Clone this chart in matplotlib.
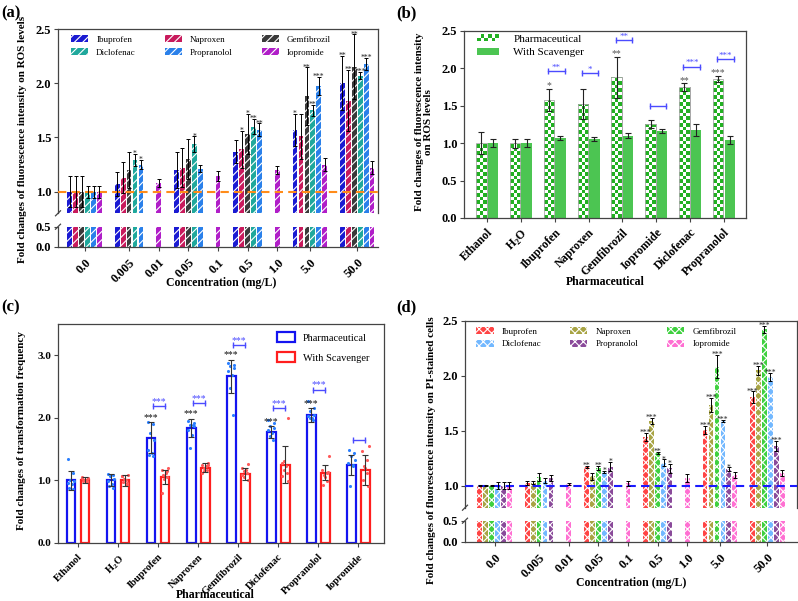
import numpy as np
import matplotlib
matplotlib.use('Agg')
import matplotlib.pyplot as plt
from matplotlib.patches import Rectangle
from matplotlib.colors import ListedColormap
from matplotlib.legend_handler import HandlerBase

plt.rcParams['font.family'] = 'Liberation Serif'
plt.rcParams['mathtext.fontset'] = 'custom'
plt.rcParams['mathtext.rm'] = 'Liberation Serif'
plt.rcParams['mathtext.bf'] = 'Liberation Serif:bold'
plt.rcParams['hatch.linewidth'] = 0.8

W, H = 798, 601
N = None

# ---------------- data ----------------
drugs = ['Ibuprofen', 'Naproxen', 'Gemfibrozil', 'Diclofenac', 'Propranolol', 'Iopromide']
conc_labels = ['0.0', '0.005', '0.01', '0.05', '0.1', '0.5', '1.0', '5.0', '50.0']

# (a) ROS levels
a_ibu = [1.00, 1.07, N, 1.20, N, 1.37, N, 1.57, 2.00]
a_ibu_err = [0.145, 0.11, N, 0.17, N, 0.11, N, 0.15, 0.25]
a_ibu_sig = ['', '', N, '', N, '', N, '*', '**']
a_nap = [1.00, 1.13, N, 1.22, N, 1.39, N, 1.51, 1.84]
a_nap_err = [0.145, 0.145, N, 0.18, N, 0.17, N, 0.21, 0.28]
a_nap_sig = ['', '', N, '', N, '*', N, '', '**']
a_gem = [1.00, 1.20, N, 1.30, N, 1.53, N, 1.88, 2.15]
a_gem_err = [0.145, 0.17, N, 0.185, N, 0.185, N, 0.265, 0.30]
a_gem_sig = ['', '', N, '', N, '*', N, '**', '**']
a_dic = [1.00, 1.29, N, 1.44, N, 1.60, N, 1.75, 2.07]
a_dic_err = [0.055, 0.058, N, 0.07, N, 0.07, N, 0.053, 0.033]
a_dic_sig = ['', '*', N, '*', N, '**', N, '**', '***']
a_pro = [1.00, 1.25, N, 1.21, N, 1.57, N, 1.975, 2.175]
a_pro_err = [0.055, 0.045, N, 0.033, N, 0.06, N, 0.08, 0.055]
a_pro_sig = ['', '*', N, '', N, '**', N, '***', '***']
a_iop = [1.00, N, 1.08, N, 1.145, N, 1.20, 1.25, 1.22]
a_iop_err = [0.055, N, 0.037, N, 0.045, N, 0.037, 0.06, 0.06]
a_iop_sig = ['', N, '', N, '', N, '', '', '']

# (d) PI-stained cells
d_ibu = [1.00, 1.027, N, 1.17, N, 1.443, N, 1.506, 1.806]
d_ibu_err = [0.005, 0.02, N, 0.01, N, 0.04, N, 0.037, 0.052]
d_ibu_sig = ['', '', N, '**', N, '***', N, '***', '***']
d_nap = [1.00, 1.027, N, 1.085, N, 1.588, N, 1.733, 2.049]
d_nap_err = [0.005, 0.013, N, 0.03, N, 0.025, N, 0.064, 0.04]
d_nap_sig = ['', '', N, '', N, '***', N, '***', '***']
d_gem = [1.00, 1.08, N, 1.16, N, 1.30, N, 2.082, 2.422]
d_gem_err = [0.005, 0.035, N, 0.02, N, 0.01, N, 0.105, 0.033]
d_gem_sig = ['', '', N, '**', N, '**', N, '***', '***']
d_dic = [1.00, 1.045, N, 1.127, N, 1.209, N, 1.588, 1.988]
d_dic_err = [0.03, 0.025, N, 0.01, N, 0.03, N, 0.012, 0.037]
d_dic_sig = ['', '', N, '*', N, '*', N, '***', '***']
d_pro = [1.00, 1.07, N, 1.173, N, 1.158, N, 1.149, 1.361]
d_pro_err = [0.03, 0.03, N, 0.042, N, 0.043, N, 0.018, 0.043]
d_pro_sig = ['', '', N, '*', N, '*', N, '*', '***']
d_iop = [1.00, N, 1.015, N, 1.02, N, 1.07, 1.097, 1.115]
d_iop_err = [0.03, N, 0.012, N, 0.02, N, 0.037, 0.03, 0.028]
d_iop_sig = ['', N, '', N, '', N, '', '', '']

# (b) ROS with scavenger
b_cats = ['Ethanol', r'H$_\mathbf{2}$O', 'Ibuprofen', 'Naproxen', 'Gemfibrozil',
          'Iopromide', 'Diclofenac', 'Propranolol']
b_pharm = [1.00, 1.00, 1.573, 1.52, 1.876, 1.253, 1.747, 1.853]
b_pharm_err = [0.15, 0.06, 0.15, 0.20, 0.27, 0.05, 0.05, 0.04]
b_pharm_sig = ['', '', '*', '', '**', '', '**', '***']
b_scav = [1.00, 1.00, 1.067, 1.05, 1.10, 1.16, 1.169, 1.04]
b_scav_err = [0.05, 0.05, 0.03, 0.025, 0.03, 0.03, 0.08, 0.05]
b_bracket_y = [N, N, 1.964, 1.93, 2.373, 1.49, 2.02, 2.116]
b_bracket_sig = [N, N, '**', '*', '**', '', '***', '***']

# (c) transformation frequency
c_cats = ['Ethanol', r'H$_\mathbf{2}$O', 'Ibuprofen', 'Naproxen', 'Gemfibrozil',
          'Diclofenac', 'Propranolol', 'Iopromide']
c_pharm = [1.00, 1.00, 1.68, 1.835, 2.66, 1.77, 2.04, 1.238]
c_pharm_err = [0.15, 0.10, 0.25, 0.15, 0.27, 0.10, 0.11, 0.16]
c_pharm_sig = ['', '', '***', '***', '***', '***', '***', '']
c_scav = [1.00, 1.00, 1.056, 1.20, 1.10, 1.25, 1.12, 1.163]
c_scav_err = [0.05, 0.09, 0.11, 0.07, 0.10, 0.30, 0.12, 0.24]
c_bracket_y = [N, N, 2.18, 2.23, 3.16, 2.15, 2.45, 1.65]
c_bracket_sig = [N, N, '***', '***', '***', '***', '***', '']
c_pharm_points = [
    [1.34, 1.12, 1.00, 0.98, 0.96, 0.94, 0.87, 0.86],
    [1.10, 1.09, 1.06, 1.02, 0.98, 0.94, 0.90, 0.87],
    [1.93, 1.90, 1.75, 1.65, 1.49, 1.43, 1.41, 1.38],
    [1.95, 1.91, 1.89, 1.86, 1.80, 1.73, 1.51, 1.88],
    [2.88, 2.85, 2.82, 2.80, 2.74, 2.69, 2.48, 2.05],
    [1.96, 1.91, 1.87, 1.83, 1.80, 1.75, 1.70, 1.65],
    [2.26, 2.16, 2.10, 2.05, 2.02, 1.99, 2.00, 1.97],
    [1.49, 1.43, 1.38, 1.33, 1.27, 1.22, 0.90, 1.25],
]
c_scav_points = [
    [1.04, 1.03, 1.00, 0.99, 0.98, 1.05, 0.97, 1.01],
    [1.08, 1.06, 1.00, 0.97, 0.93, 1.07, 0.95, 1.02],
    [1.20, 1.17, 1.11, 1.09, 1.05, 0.80, 1.14, 1.02],
    [1.27, 1.25, 1.22, 1.19, 1.17, 1.11, 1.24, 1.15],
    [1.26, 1.19, 1.17, 1.14, 1.11, 1.08, 1.00, 1.05],
    [1.99, 1.27, 1.22, 1.17, 1.11, 1.06, 0.98, 1.30],
    [1.38, 1.17, 1.11, 1.09, 0.98, 0.93, 1.13, 1.05],
    [1.54, 1.46, 1.33, 1.22, 1.11, 1.00, 0.90, 1.20],
]

a_colors = ['#1a1ad2', '#c81a5c', '#3a3a3a', '#1fa89c', '#2a80ea', '#b01ec8']
d_colors = ['#ff4444', '#a8a444', '#3fd03f', '#72b8ff', '#8a4a9a', '#ff6fd2']

SPINE = '#444444'


def pxrect(x0, y0, x1, y1):
    return [x0 / W, 1 - y1 / H, (x1 - x0) / W, (y1 - y0) / H]


def slot_positions(series):
    pos = [[None] * len(conc_labels) for _ in series]
    centers = []
    s = 0
    for j in range(len(conc_labels)):
        start = s
        for i, ser in enumerate(series):
            if ser[j] is not None:
                pos[i][j] = s
                s += 1
        centers.append((start + s - 1) / 2)
        s += 2
    return pos, centers


def style_axes(ax, fs=8):
    for sp in ax.spines.values():
        sp.set_color(SPINE)
        sp.set_linewidth(0.9)
    ax.tick_params(direction='out', length=3, width=0.8, color=SPINE, labelsize=fs, pad=2)
    for lab in ax.get_yticklabels():
        lab.set_fontweight('bold')


def grouped_broken(fig, rect_top, rect_bot, xlim, means, errs, sigs, colors, hatch, line_color, leg_anchor):
    ax_t = fig.add_axes(rect_top)
    ax_b = fig.add_axes(rect_bot)
    pos, centers = slot_positions(means)
    for i, name in enumerate(drugs):
        xs = [p for p in pos[i] if p is not None]
        ys = [m for m in means[i] if m is not None]
        es = [e for e in errs[i] if e is not None]
        ss = [s for s in sigs[i] if s is not None]
        for ax in (ax_t, ax_b):
            ax.bar(xs, ys, width=0.8, color=colors[i], edgecolor='white', linewidth=0,
                   hatch=hatch, label=name, zorder=2)
        ax_t.errorbar(xs, ys, yerr=es, fmt='none', ecolor='black', elinewidth=0.7,
                      capsize=1.6, capthick=0.7, zorder=4)
        for x, y, e, s in zip(xs, ys, es, ss):
            if s:
                ax_t.annotate(s, (x, y + e), xytext=(0, -1.5), textcoords='offset points',
                              ha='center', va='baseline', fontsize=5.5, color='#222222', zorder=5)
    ax_t.axhline(1.0, color=line_color, lw=1.5, dashes=(4, 2.5), zorder=3)
    ax_t.set_ylim(0.8, 2.5)
    ax_b.set_ylim(0, 0.5)
    for ax in (ax_t, ax_b):
        ax.set_xlim(*xlim)
    ax_t.set_yticks([1.0, 1.5, 2.0, 2.5])
    ax_t.set_yticklabels(['1.0', '1.5', '2.0', '2.5'])
    ax_b.set_yticks([0.0, 0.5])
    ax_b.set_yticklabels(['0.0', '0.5'])
    ax_t.set_xticks([])
    ax_t.spines['bottom'].set_visible(False)
    ax_b.spines['top'].set_visible(False)
    ax_b.spines['right'].set_visible(False)
    ax_b.set_xticks(centers)
    ax_b.set_xticklabels(conc_labels, rotation=45, ha='right', va='top',
                         rotation_mode='anchor', fontweight='bold')
    style_axes(ax_t, fs=9)
    style_axes(ax_b, fs=9)
    ax_b.tick_params(axis='x', pad=4)
    # break marks
    for ax, yy in ((ax_t, 0.0), (ax_b, 1.0)):
        bb = ax.get_position()
        dx = 2.5 / (bb.width * W)
        dy = 2.5 / (bb.height * H)
        ax.plot([-dx, dx], [yy - dy, yy + dy], transform=ax.transAxes, color=SPINE,
                lw=0.9, clip_on=False)
    h, l = ax_t.get_legend_handles_labels()
    order = [0, 3, 1, 4, 2, 5]
    ax_t.legend([h[k] for k in order], [l[k] for k in order], ncol=3, frameon=False,
                loc='upper left', bbox_to_anchor=leg_anchor, fontsize=6.5,
                handlelength=1.9, handleheight=0.8, columnspacing=3.2,
                labelspacing=0.45, handletextpad=0.9)
    return ax_t, ax_b


class CheckerHandler(HandlerBase):
    def __init__(self, c1, c2, nx=6, ny=2):
        super().__init__()
        self.c1, self.c2, self.nx, self.ny = c1, c2, nx, ny

    def create_artists(self, legend, orig_handle, xdescent, ydescent, width, height,
                       fontsize, trans):
        arts = []
        cw, ch = width / self.nx, height / self.ny
        for i in range(self.nx):
            for j in range(self.ny):
                c = self.c1 if (i + j) % 2 == 0 else self.c2
                arts.append(Rectangle((-xdescent + i * cw, -ydescent + j * ch), cw, ch,
                                      facecolor=c, edgecolor='none', transform=trans))
        return arts


fig = plt.figure(figsize=(W / 100, H / 100), dpi=100)

# ---------------- (a) ----------------
grouped_broken(fig, pxrect(58, 29, 378, 213.3), pxrect(58, 226.7, 378, 246.7), (-2, 52),
               [a_ibu, a_nap, a_gem, a_dic, a_pro, a_iop],
               [a_ibu_err, a_nap_err, a_gem_err, a_dic_err, a_pro_err, a_iop_err],
               [a_ibu_sig, a_nap_sig, a_gem_sig, a_dic_sig, a_pro_sig, a_iop_sig],
               a_colors, '////', '#ff8c1a', (0.015, 1.01))

# ---------------- (d) ----------------
grouped_broken(fig, pxrect(465, 320.7, 797, 507.7), pxrect(465, 520.7, 797, 541.7), (-2.5, 53.5),
               [d_ibu, d_nap, d_gem, d_dic, d_pro, d_iop],
               [d_ibu_err, d_nap_err, d_gem_err, d_dic_err, d_pro_err, d_iop_err],
               [d_ibu_sig, d_nap_sig, d_gem_sig, d_dic_sig, d_pro_sig, d_iop_sig],
               d_colors, 'xxxx', '#1a1aff', (0.01, 1.01))

# ---------------- (b) ----------------
axb = fig.add_axes(pxrect(464, 30.7, 746, 218))
xb = np.arange(len(b_cats))
green = '#22b022'
scav_green = '#4cc552'
axb.set_xlim(-0.68, 7.65)
axb.set_ylim(0, 2.5)
pb = axb.bar(xb - 0.17, b_pharm, width=0.31, color='white', edgecolor='#999999', lw=0.6, zorder=1)
axb.bar(xb + 0.17, b_scav, width=0.31, color=scav_green, lw=0, zorder=1)
bbx = axb.get_position()
px_x = bbx.width * W / 8.33
px_y = bbx.height * H / 2.5
cmap = ListedColormap(['white', green])
for bar in pb:
    x0, w, hgt = bar.get_x(), bar.get_width(), bar.get_height()
    cell_w = w / 3
    cell_h = cell_w * px_x / px_y
    nr = int(np.ceil(hgt / cell_h))
    img = (np.add.outer(np.arange(nr), np.arange(3)) % 2 == 0).astype(float)
    im = axb.imshow(img, extent=(x0, x0 + w, 0, nr * cell_h), origin='lower', cmap=cmap,
                    aspect='auto', interpolation='nearest', zorder=1.5)
    im.set_clip_path(bar)
axb.bar(xb - 0.17, b_pharm, width=0.31, fill=False, edgecolor='#aaaaaa', lw=0.6, zorder=2)
axb.errorbar(xb - 0.17, b_pharm, yerr=b_pharm_err, fmt='none', ecolor='#222222', elinewidth=0.8,
             capsize=2.2, capthick=0.8, zorder=4)
axb.errorbar(xb + 0.17, b_scav, yerr=b_scav_err, fmt='none', ecolor='#222222', elinewidth=0.8,
             capsize=2.2, capthick=0.8, zorder=4)
for x, y, e, s in zip(xb, b_pharm, b_pharm_err, b_pharm_sig):
    if s:
        axb.annotate(s, (x - 0.17, y + e), xytext=(0, 0.5), textcoords='offset points',
                     ha='center', va='baseline', fontsize=7, color='#555555')
for x, y, s in zip(xb, b_bracket_y, b_bracket_sig):
    if y is None:
        continue
    axb.plot([x - 0.2, x + 0.29], [y, y], color='#4b4bff', lw=1.0, marker='|', ms=4, mew=1.0)
    if s:
        axb.annotate(s, (x + 0.05, y), xytext=(0, 1.0), textcoords='offset points',
                     ha='center', va='baseline', fontsize=6.5, color='#4b4bff')
axb.set_xlim(-0.68, 7.65)
axb.set_ylim(0, 2.5)
axb.set_xticks(xb)
axb.set_xticklabels(b_cats, rotation=45, ha='right', va='top', rotation_mode='anchor',
                    fontweight='bold')
axb.set_yticks(np.arange(0, 2.51, 0.5))
axb.set_yticklabels(['%.1f' % v for v in np.arange(0, 2.51, 0.5)])
style_axes(axb, fs=9)
axb.tick_params(axis='x', labelsize=8.5, pad=3)
ph = Rectangle((0, 0), 1, 1)
sh = Rectangle((0, 0), 1, 1, facecolor=scav_green, lw=0)
axb.legend([ph, sh], ['Pharmaceutical', 'With Scavenger'], loc='upper left',
           bbox_to_anchor=(0.01, 1.035), frameon=False, fontsize=8, handlelength=2.0,
           handleheight=0.6, labelspacing=0.4, handletextpad=1.3,
           handler_map={ph: CheckerHandler(green, 'white')})

# ---------------- (c) ----------------
axc = fig.add_axes(pxrect(58.3, 324, 384, 542.7))
xc = np.arange(len(c_cats))
blue = '#1414f0'
red = '#ff1e1e'
axc.bar(xc - 0.175, c_pharm, width=0.22, facecolor='white', edgecolor=blue, lw=1.6, zorder=2,
        label='Pharmaceutical')
axc.bar(xc + 0.175, c_scav, width=0.22, facecolor='white', edgecolor=red, lw=1.6, zorder=2,
        label='With Scavenger')
jit = [-0.07, 0.06, -0.02, 0.08, -0.08, 0.03, -0.04, 0.05]
for k in range(len(c_cats)):
    pp = c_pharm_points[k]
    sp = c_scav_points[k]
    axc.scatter([xc[k] - 0.175 + jit[m % len(jit)] for m in range(len(pp))], pp, s=5,
                color='#2a7fff', zorder=3, lw=0)
    axc.scatter([xc[k] + 0.175 + jit[(m + 3) % len(jit)] for m in range(len(sp))], sp, s=5,
                color='#ff5a5a', zorder=3, lw=0)
axc.errorbar(xc - 0.175, c_pharm, yerr=c_pharm_err, fmt='none', ecolor='#333333', elinewidth=0.8,
             capsize=2.5, capthick=0.8, zorder=4)
axc.errorbar(xc + 0.175, c_scav, yerr=c_scav_err, fmt='none', ecolor='#333333', elinewidth=0.8,
             capsize=2.5, capthick=0.8, zorder=4)
for x, y, e, s in zip(xc, c_pharm, c_pharm_err, c_pharm_sig):
    if s:
        axc.annotate(s, (x - 0.175, y + e), xytext=(0, 1.5), textcoords='offset points',
                     ha='center', va='baseline', fontsize=7, color='#111111')
for x, y, s in zip(xc, c_bracket_y, c_bracket_sig):
    if y is None:
        continue
    axc.plot([x - 0.13, x + 0.17], [y, y], color='#4b4bff', lw=1.0, marker='|', ms=4, mew=1.0)
    if s:
        axc.annotate(s, (x + 0.02, y), xytext=(0, 1.5), textcoords='offset points',
                     ha='center', va='baseline', fontsize=7, color='#4b4bff')
axc.set_xlim(-0.49, 7.64)
axc.set_ylim(0, 3.5)
axc.set_xticks(xc)
axc.set_xticklabels(c_cats, rotation=45, ha='right', va='top', rotation_mode='anchor',
                    fontweight='bold')
axc.set_yticks([0, 1, 2, 3])
axc.set_yticklabels(['0.0', '1.0', '2.0', '3.0'])
style_axes(axc, fs=8)
axc.tick_params(axis='x', labelsize=7.5, pad=4)
axc.legend(loc='upper right', bbox_to_anchor=(0.985, 1.005), frameon=False, fontsize=7.5,
           handlelength=1.7, handleheight=1.1, labelspacing=0.9, handletextpad=0.8)

# ---------------- texts ----------------
lab = dict(fontweight='bold', fontsize=12)
fig.text(1 / W, 1 - 13 / H, '(a)', va='center', ha='left', **lab)
fig.text(396 / W, 1 - 13 / H, '(b)', va='center', ha='left', **lab)
fig.text(1 / W, 1 - 307 / H, '(c)', va='center', ha='left', **lab)
fig.text(396 / W, 1 - 307 / H, '(d)', va='center', ha='left', **lab)

yl = dict(fontweight='bold', fontsize=8, rotation=90, ha='center', va='center')
fig.text(23 / W, 1 - 139 / H, 'Fold changes of fluorescence intensity on ROS levels', **yl)
fig.text(424 / W, 1 - 122 / H, 'Fold changes of fluorescence intensity\non ROS levels',
         linespacing=1.1, **yl)
fig.text(22 / W, 1 - 430 / H, 'Fold changes of transformation frequency', **yl)
fig.text(432 / W, 1 - 450 / H, 'Fold changes of fluorescence intensity on PI-stained cells', **yl)

xl = dict(fontweight='bold', fontsize=8.5, ha='center', va='center')
fig.text(221 / W, 1 - 283 / H, 'Concentration (mg/L)', **xl)
fig.text(605 / W, 1 - 282 / H, 'Pharmaceutical', **xl)
fig.text(215 / W, 1 - 595 / H, 'Pharmaceutical', **xl)
fig.text(631 / W, 1 - 583 / H, 'Concentration (mg/L)', **xl)

fig.savefig('out.png', dpi=100)
